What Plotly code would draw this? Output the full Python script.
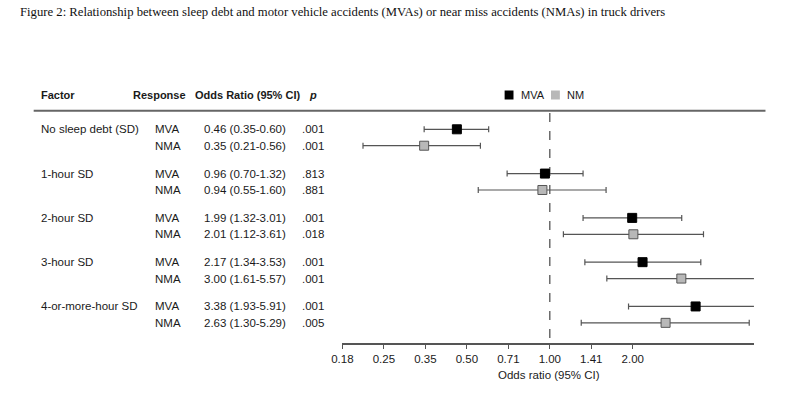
import plotly.graph_objects as go

# ---------------- data ----------------
factors = ["No sleep debt (SD)", "1-hour SD", "2-hour SD", "3-hour SD", "4-or-more-hour SD"]
responses = ["MVA", "NMA"]

mva_or = [0.46, 0.96, 1.99, 2.17, 3.38]
mva_lo = [0.35, 0.70, 1.32, 1.34, 1.93]
mva_hi = [0.60, 1.32, 3.01, 3.53, 5.91]
mva_p = [".001", ".813", ".001", ".001", ".001"]

nma_or = [0.35, 0.94, 2.01, 3.00, 2.63]
nma_lo = [0.21, 0.55, 1.12, 1.61, 1.30]
nma_hi = [0.56, 1.60, 3.61, 5.57, 5.29]
nma_p = [".001", ".881", ".018", ".001", ".005"]

tick_vals = [0.1768, 0.25, 0.3536, 0.5, 0.7071, 1.0, 1.4142, 2.0]
tick_text = ["0.18", "0.25", "0.35", "0.50", "0.71", "1.00", "1.41", "2.00"]

title_text = ("Figure 2: Relationship between sleep debt and motor vehicle accidents (MVAs) "
              "or near miss accidents (NMAs) in truck drivers")
legend_labels = ["MVA", "NM"]

# ---------------- layout helpers ----------------
W, H = 800, 399


def px(x):
    return x / W


def py(y):
    return (H - y) / H


GROUP_STEP = 2.7   # row units between groups
ROW_STEP = 1.0     # row units between MVA and NMA rows
mva_y = [g * GROUP_STEP for g in range(len(factors))]
nma_y = [g * GROUP_STEP + ROW_STEP for g in range(len(factors))]

FONT = "Liberation Sans, Arial, sans-serif"
TXT = "#1a1a1a"
LINE = "#555555"

fig = go.Figure()

# reference line at OR = 1
fig.add_trace(go.Scatter(
    x=[1, 1], y=[-1.0, 13.05], mode="lines",
    line=dict(color="#444444", width=1.2, dash="dash"),
    hoverinfo="skip", showlegend=False))


def ci_trace(orv, lo, hi, ys, fill, border, name):
    return go.Scatter(
        x=orv, y=ys, mode="markers", name=name, showlegend=False,
        marker=dict(symbol="square", size=9, color=fill,
                    line=dict(color=border, width=1)),
        error_x=dict(type="data", symmetric=False,
                     array=[h - o for h, o in zip(hi, orv)],
                     arrayminus=[o - l for o, l in zip(orv, lo)],
                     color=LINE, thickness=1.2, width=3),
    )


fig.add_trace(ci_trace(mva_or, mva_lo, mva_hi, mva_y, "#000000", "#000000", "MVA"))
fig.add_trace(ci_trace(nma_or, nma_lo, nma_hi, nma_y, "#b8b8b8", "#555555", "NMA"))

annotations = []


def txt(x, y, s, yref="y", bold=False, size=11.5):
    if bold:
        s = "<b>" + s + "</b>"
    annotations.append(dict(x=x, y=y, xref="paper", yref=yref, text=s,
                            showarrow=False, xanchor="left", yanchor="middle",
                            align="left",
                            font=dict(family=FONT, size=size, color=TXT)))


# header
hy = py(95)
txt(px(28), hy, "Factor", yref="paper", bold=True, size=11)
txt(px(122), hy, "Response", yref="paper", bold=True, size=11)
txt(px(185), hy, "Odds Ratio (95% CI)", yref="paper", bold=True, size=11)
txt(px(300), hy, "<b><i>p</i></b>", yref="paper", size=11)

for i, f in enumerate(factors):
    txt(px(28), mva_y[i], f)
    txt(px(144), mva_y[i], responses[0])
    txt(px(144), nma_y[i], responses[1])
    txt(px(194), mva_y[i], f"{mva_or[i]:.2f} ({mva_lo[i]:.2f}-{mva_hi[i]:.2f})")
    txt(px(194), nma_y[i], f"{nma_or[i]:.2f} ({nma_lo[i]:.2f}-{nma_hi[i]:.2f})")
    txt(px(293), mva_y[i], mva_p[i])
    txt(px(293), nma_y[i], nma_p[i])

# title
annotations.append(dict(x=px(7), y=py(12), xref="paper", yref="paper",
                        text=title_text, showarrow=False, xanchor="left",
                        yanchor="middle", align="left",
                        font=dict(family="Liberation Serif, Times New Roman, serif",
                                  size=12.7, color="#111111")))

# axis title
annotations.append(dict(x=px(546), y=py(375), xref="paper", yref="paper",
                        text="Odds ratio (95% CI)", showarrow=False,
                        xanchor="center", yanchor="middle",
                        font=dict(family=FONT, size=11.5, color=TXT)))

# manual legend
legend_fill = ["#000000", "#b8b8b8"]
legend_x = [505, 552]
shapes = []
for lx, fc, lab in zip(legend_x, legend_fill, legend_labels):
    shapes.append(dict(type="rect", xref="paper", yref="paper",
                       x0=px(lx - 4.5), x1=px(lx + 4.5),
                       y0=py(95 + 4.5), y1=py(95 - 4.5),
                       fillcolor=fc, line=dict(width=0)))
    txt(px(lx + 10), py(95), lab, yref="paper", size=11)

# header rule
shapes.append(dict(type="line", xref="paper", yref="paper",
                   x0=px(23), x1=px(765), y0=py(110.7), y1=py(110.7),
                   line=dict(color="#666666", width=2)))

LOG2 = 0.30103
x_lo = -2.5 * LOG2
x_hi = 2.46 * LOG2
y_top = -1.055
y_bot = 13.01

fig.update_layout(
    width=W, height=H, autosize=False,
    margin=dict(l=0, r=0, t=0, b=0),
    paper_bgcolor="white", plot_bgcolor="white",
    showlegend=False,
    annotations=annotations,
    shapes=shapes,
    xaxis=dict(type="log", range=[x_lo, x_hi], domain=[px(336), px(753.3)],
               tickvals=tick_vals, ticktext=tick_text,
               showline=True, linecolor=LINE, linewidth=1.5,
               ticks="outside", ticklen=5, tickcolor=LINE, tickwidth=1.2,
               showgrid=False, zeroline=False,
               tickfont=dict(family=FONT, size=11.5, color=TXT)),
    yaxis=dict(range=[y_bot, y_top], domain=[py(342.7), py(112)],
               visible=False, showgrid=False, zeroline=False),
)

fig.write_html("out.html", config={"displayModeBar": False},
               post_script="document.body.style.margin='0px';")
